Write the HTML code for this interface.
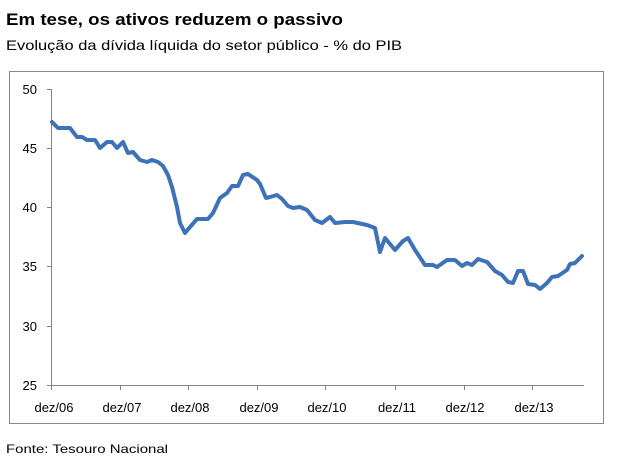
<!DOCTYPE html>
<html><head><meta charset="utf-8"><style>
html,body{margin:0;padding:0;background:#fff;}
body{width:640px;height:463px;overflow:hidden;position:relative;font-family:"Liberation Sans",sans-serif;}
</style></head><body>
<svg width="640" height="463" viewBox="0 0 640 463" xmlns="http://www.w3.org/2000/svg" style="position:absolute;left:0;top:0">
<text x="6" y="25" font-size="17" font-weight="bold" fill="#000" font-family="Liberation Sans, sans-serif" textLength="337" lengthAdjust="spacingAndGlyphs">Em tese, os ativos reduzem o passivo</text>
<text x="6" y="50" font-size="14" fill="#000" font-family="Liberation Sans, sans-serif" textLength="396" lengthAdjust="spacingAndGlyphs">Evolução da dívida líquida do setor público - % do PIB</text>
<rect x="9.5" y="71.5" width="594" height="352" fill="#fff" stroke="#888" stroke-width="1"/>
<g stroke="#868686" stroke-width="1" fill="none">
<line x1="51.5" y1="89" x2="51.5" y2="385"/>
<line x1="51" y1="385.5" x2="584" y2="385.5"/>
<line x1="47" y1="89.5" x2="51" y2="89.5"/>
<line x1="47" y1="148.5" x2="51" y2="148.5"/>
<line x1="47" y1="207.5" x2="51" y2="207.5"/>
<line x1="47" y1="266.5" x2="51" y2="266.5"/>
<line x1="47" y1="326.5" x2="51" y2="326.5"/>
<line x1="47" y1="385.5" x2="51" y2="385.5"/>
<line x1="51.5" y1="385" x2="51.5" y2="390"/>
<line x1="120.5" y1="385" x2="120.5" y2="390"/>
<line x1="188.5" y1="385" x2="188.5" y2="390"/>
<line x1="257.5" y1="385" x2="257.5" y2="390"/>
<line x1="325.5" y1="385" x2="325.5" y2="390"/>
<line x1="395.5" y1="385" x2="395.5" y2="390"/>
<line x1="464.5" y1="385" x2="464.5" y2="390"/>
<line x1="532.5" y1="385" x2="532.5" y2="390"/>
</g>
<g font-size="13" fill="#000" text-anchor="end" font-family="Liberation Sans, sans-serif">
<text x="37" y="94">50</text><text x="37" y="153">45</text><text x="37" y="212">40</text>
<text x="37" y="271">35</text><text x="37" y="331">30</text><text x="37" y="390">25</text>
</g>
<g font-size="13" fill="#000" text-anchor="middle" font-family="Liberation Sans, sans-serif">
<text x="54" y="412">dez/06</text><text x="122" y="412">dez/07</text><text x="190" y="412">dez/08</text>
<text x="259" y="412">dez/09</text><text x="327" y="412">dez/10</text><text x="397" y="412">dez/11</text>
<text x="465" y="412">dez/12</text><text x="534" y="412">dez/13</text>
</g>
<polyline fill="none" stroke="#3d72b8" stroke-width="4" stroke-linejoin="round" stroke-linecap="round" points="52,122 58,128 70,128 77,137 82,137 87,140 95,140 100,148 107,142 112,142 117,148 123,142 128,153 133,152 140,160 147,162 152,160 158,162 163,166 168,175 172,187 177,207 180,223 185,233 190,227 197,219 208,219 213,213 220,198 227,193 232,186 238,186 243,175 248,174 257,180 260,184 266,198 270,197 277,195 282,199 288,206 293,208 300,207 307,210 315,220 322,223 330,217 335,223 345,222 353,222 367,225 375,228 380,252 385,238 395,250 403,241 408,238 415,250 425,265 433,265 437,267 447,260 455,260 462,266 467,263 472,265 478,259 487,262 495,271 502,275 508,282 513,283 518,271 523,271 528,284 535,285 540,289 547,283 552,277 558,276 567,270 570,264 575,263 582,256"/>
<text x="6" y="453" font-size="12" fill="#000" font-family="Liberation Sans, sans-serif" textLength="162" lengthAdjust="spacingAndGlyphs">Fonte: Tesouro Nacional</text>
</svg>
</body></html>
